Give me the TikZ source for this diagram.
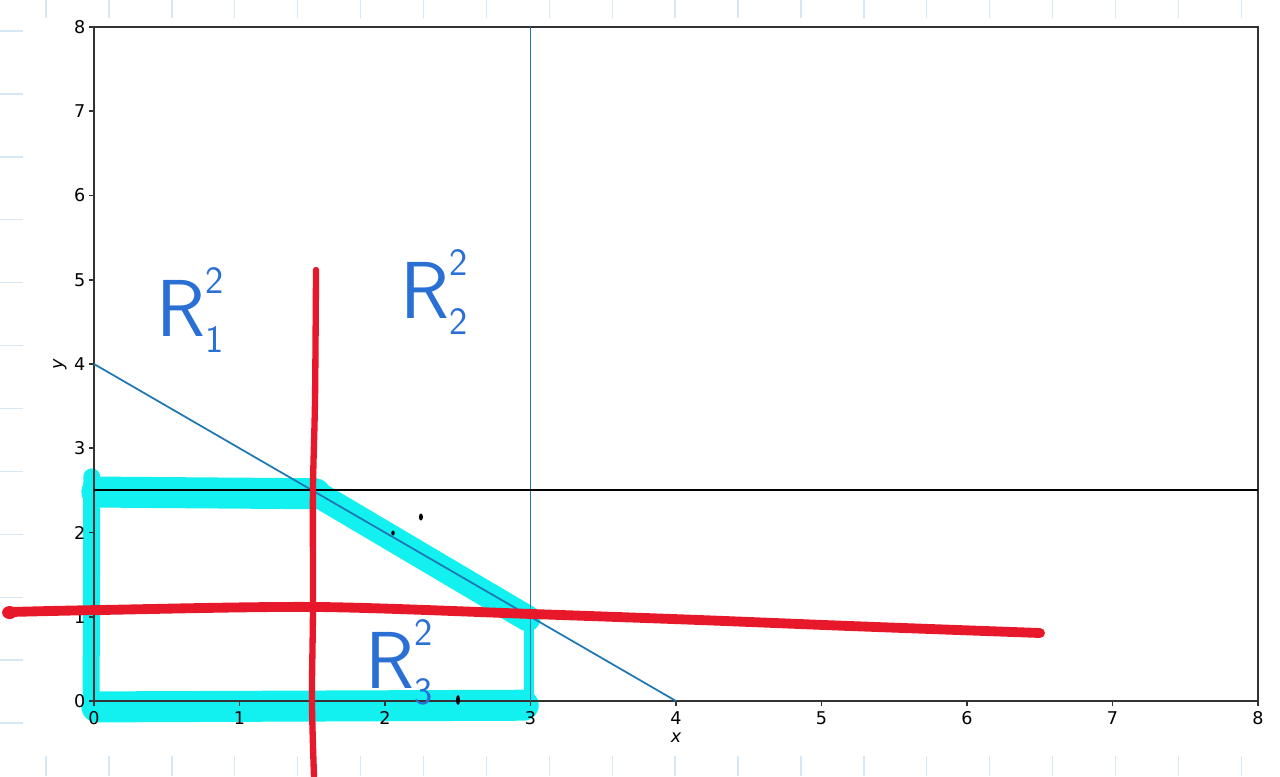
\documentclass[tikz,border=0pt]{standalone}
\usepackage{fontspec}
\newfontfamily\plotfont{DejaVu Sans}
\usetikzlibrary{positioning}
\definecolor{framec}{HTML}{333333}
\definecolor{linec}{HTML}{1F77B4}
\definecolor{redc}{HTML}{E8182B}
\definecolor{hlc}{HTML}{12F0F0}
\definecolor{inkc}{HTML}{2A70D4}
\definecolor{paperc}{HTML}{D6E7F5}
% hand written R with upper and lower index
\newcommand\handR[2]{R\makebox[0pt][l]{\raisebox{0.52em}{\fontsize{22}{22}\selectfont #1}}\raisebox{-0.2em}{\fontsize{22}{22}\selectfont #2}}

\begin{document}
\begin{tikzpicture}[
    x=2.91cm, y=1.685cm,
    paper/.style={paperc,line width=0.8pt},
    frame/.style={framec,line width=0.9pt},
    ticklbl/.style={font=\plotfont\fontsize{10}{12}\selectfont,text=black,inner sep=1pt},
    axlbl/.style={font=\plotfont\itshape\fontsize{10}{12}\selectfont,inner sep=1pt},
    fitline/.style={linec,line width=1pt},
    hl/.style={hlc,line width=#1,line join=round,line cap=round},
    pen/.style={redc,line cap=round,line join=round},
    ink/.style={inkc,font=\sffamily\fontsize{46}{50}\selectfont,anchor=base west,inner sep=0pt},
  ]
\useasboundingbox (-0.6460,-0.8902) rectangle (8.1512,8.3205);

% notebook paper marks
\begin{scope}[shift={(-0.6460,8.3205)},x=0.02cm,y=-0.02cm]
  \foreach \i in {0,...,19} {
    \draw[paper] ({46+62.9*\i},0) -- ++(0,18);
    \draw[paper] ({46+62.9*\i},756) -- ++(0,20);
  }
  \foreach \j in {0,...,11}
    \draw[paper] (0,{31+62.9*\j}) -- ++(23,0);
\end{scope}

% highlighted region
\draw[hl=0.34cm] (-0.015,2.66) -- (-0.02,-0.1);
\draw[hl=0.62cm] (0.02,2.48) -- (1.52,2.46);
\draw[hl=0.52cm] (1.55,2.44) -- (2.98,0.98);
\draw[hl=0.2cm] (2.99,0.9) -- (2.99,0.0);
\draw[hl=0.62cm] (0.02,-0.07) -- (2.95,-0.05);

% axes box, ticks and labels
\draw[frame] (0,0) rectangle (8,8);
\foreach \i in {0,...,8} {
  \draw[frame] (\i,0) -- ++(0,-0.06);
  \node[ticklbl,anchor=north] (xt\i) at (\i,-0.1) {\i};
  \draw[frame] (0,\i) -- ++(-0.035,0);
  \node[ticklbl,anchor=east] (yt\i) at (-0.045,\i) {\i};
}
\node[axlbl] (xlab) at (4,-0.44) {x};
\node[axlbl,rotate=90] (ylab) at (-0.234,4) {y};

% plotted lines
\draw[fitline] (0,4) -- (4,0);
\draw[fitline] (3,0) -- (3,8);
\draw[black,line width=1.2pt] (0,2.5) -- (8,2.5);

% red pen splits
\draw[pen,line width=3.6pt] plot[smooth] coordinates
  {(1.526,5.116) (1.519,3.573) (1.505,2.504) (1.505,1.08) (1.498,0.012) (1.512,-0.8902)};
\draw[pen,line width=5.6pt] plot[smooth] coordinates
  {(-0.585,1.056) (0.041,1.080) (1.526,1.116) (3.003,1.033) (4.165,0.961) (5.196,0.890) (6.502,0.807)};
\fill[redc] (-0.58,1.05) ellipse [x radius=0.15cm,y radius=0.13cm];

% stray pen dots
\fill (2.247,2.184) ellipse [x radius=0.04cm,y radius=0.07cm];
\fill (2.055,1.994) ellipse [x radius=0.035cm,y radius=0.05cm];
\fill (2.502,0.012) ellipse [x radius=0.04cm,y radius=0.1cm];

% region names
\node[ink] (reg1) at (0.426,4.332) {\handR{2}{1}};
\node[ink] (reg2) at (2.103,4.546) {\handR{2}{2}};
\node[ink] (reg3) at (1.863,0.154) {\handR{2}{3}};

\end{tikzpicture}
\end{document}
